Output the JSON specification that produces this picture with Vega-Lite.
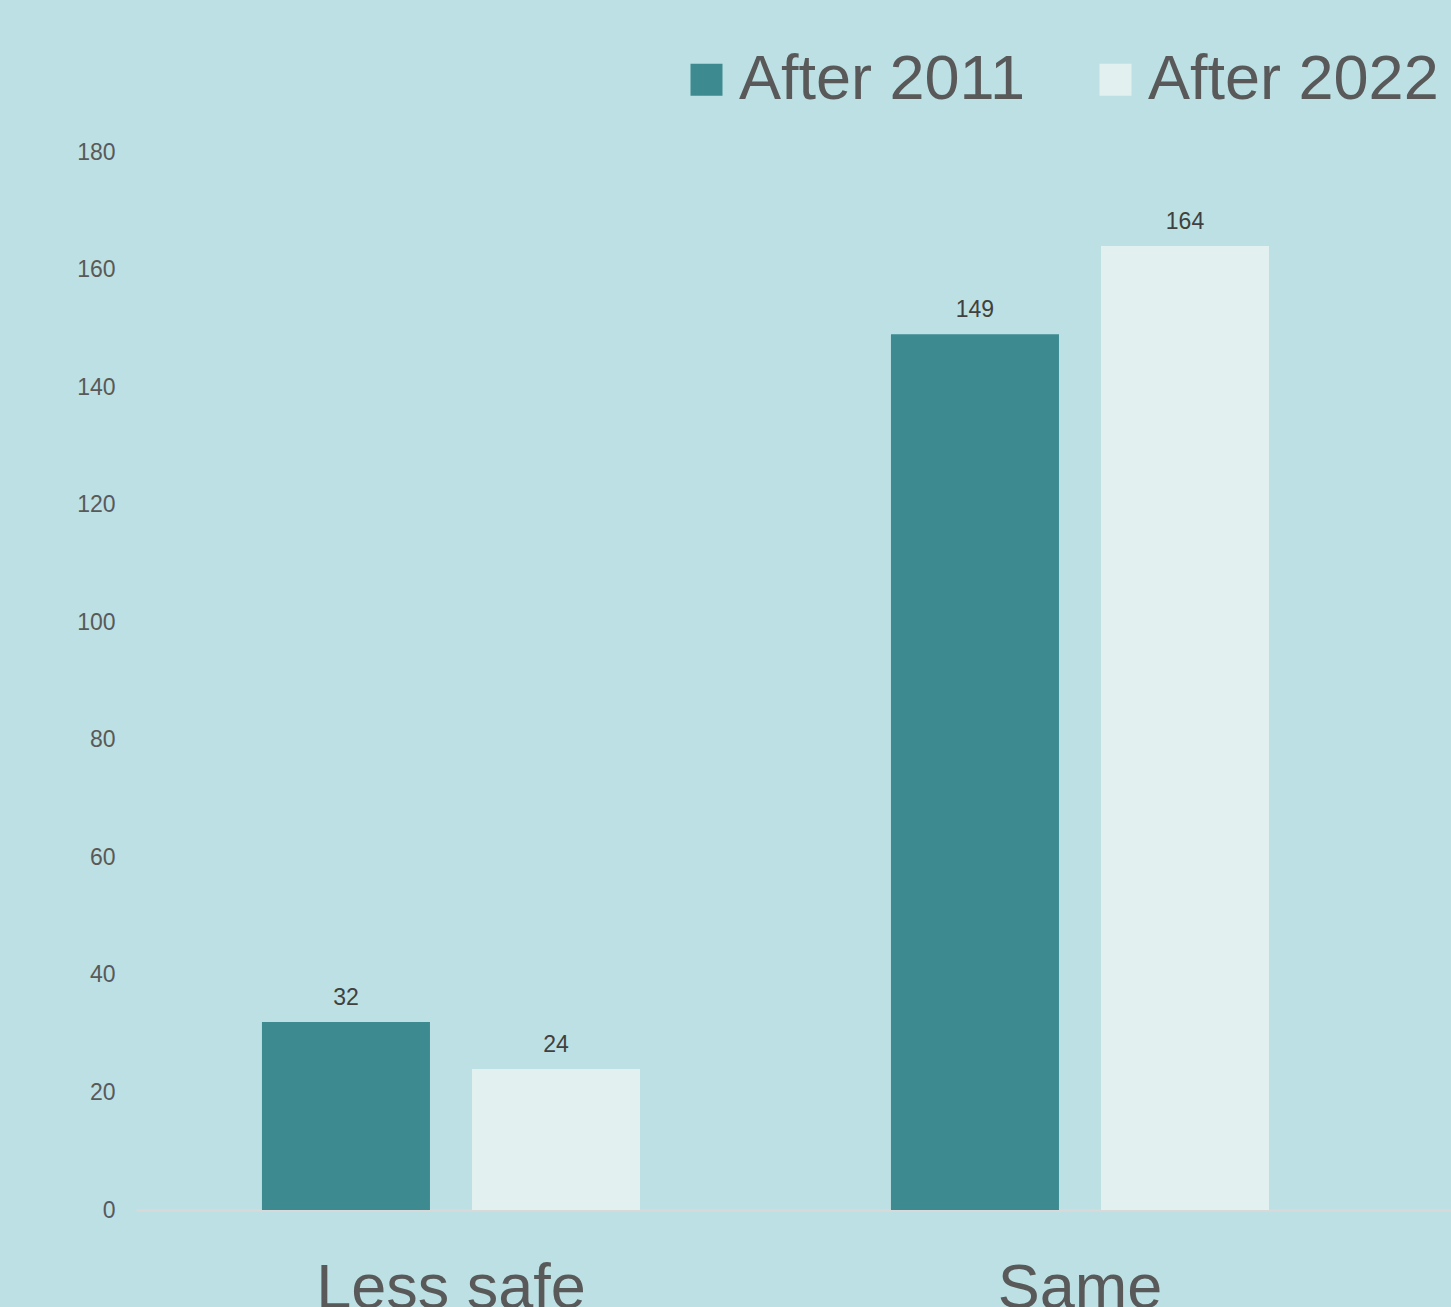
{
  "$schema": "https://vega.github.io/schema/vega-lite/v6.json",
  "autosize": {"type": "none"},
  "width": 1315,
  "height": 1058,
  "padding": {"left": 136, "top": 152, "right": 0, "bottom": 97},
  "background": "#BCE0E3",
  "config": {
    "view": {"stroke": null},
    "font": "Liberation Sans",
    "axis": {"grid": false}
  },
  "data": {
    "values": [
      {"category": "Less safe", "series": "After 2011", "value": 32},
      {"category": "Less safe", "series": "After 2022", "value": 24},
      {"category": "Same", "series": "After 2011", "value": 149},
      {"category": "Same", "series": "After 2022", "value": 164}
    ]
  },
  "encoding": {
    "x": {
      "field": "category", "type": "nominal", "sort": ["Less safe", "Same"],
      "scale": {"paddingInner": 0.399, "paddingOuter": 0.2448, "align": 0.409},
      "axis": {
        "title": null, "labelAngle": 0, "ticks": false, "tickSize": 0,
        "labelFontSize": 63, "labelColor": "#595959", "labelBaseline": "alphabetic",
        "labelPadding": 97, "labelLimit": 0, "labelOverlap": false,
        "domainColor": "#D9D9D9", "domainWidth": 2
      }
    },
    "xOffset": {
      "field": "series", "type": "nominal",
      "scale": {"paddingInner": 0.2, "paddingOuter": 0}
    },
    "y": {
      "field": "value", "type": "quantitative",
      "scale": {"domain": [0, 180], "nice": false},
      "axis": {
        "title": null, "values": [0, 20, 40, 60, 80, 100, 120, 140, 160, 180],
        "domain": false, "ticks": false, "labelFontSize": 23, "labelColor": "#595959",
        "labelPadding": 21
      }
    }
  },
  "layer": [
    {
      "mark": {"type": "bar"},
      "encoding": {
        "color": {
          "field": "series", "type": "nominal",
          "scale": {"domain": ["After 2011", "After 2022"], "range": ["#3D8B91", "#E2F1EF"]},
          "legend": {
            "title": null, "orient": "none", "direction": "horizontal",
            "legendX": 539, "legendY": -104,
            "symbolType": "square", "symbolSize": 1024, "symbolStrokeWidth": 0,
            "labelFontSize": 63, "labelColor": "#595959", "labelOffset": 1,
            "columnPadding": 58, "labelLimit": 1000
          }
        }
      }
    },
    {
      "mark": {"type": "text", "baseline": "bottom", "dy": -12, "fontSize": 23, "color": "#404040"},
      "encoding": {"text": {"field": "value", "type": "quantitative"}}
    }
  ]
}
